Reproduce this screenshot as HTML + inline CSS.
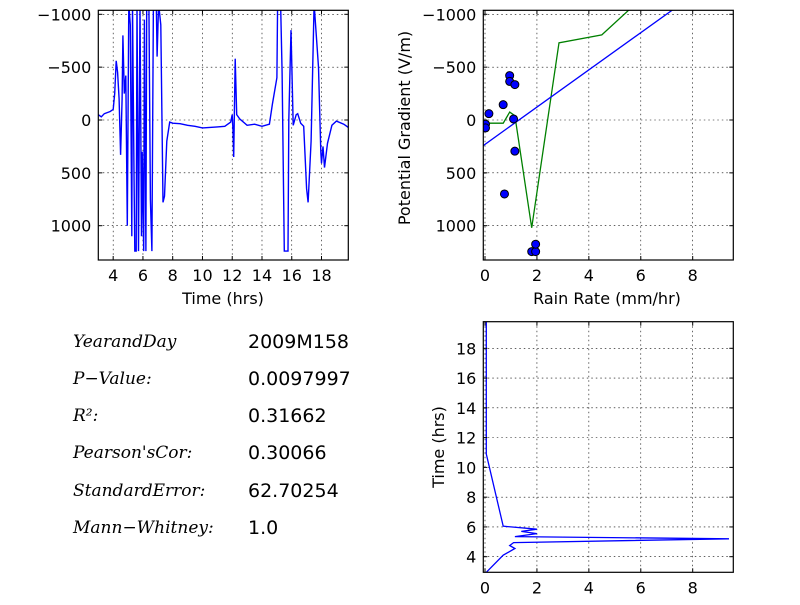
<!DOCTYPE html>
<html><head><meta charset="utf-8"><style>
body{margin:0;background:#fff;}
svg text{font-family:"DejaVu Sans","Liberation Sans",sans-serif;}
.m{font-family:"DejaVu Serif","Liberation Serif",serif;font-style:italic;font-size:17px;}
.v{font-size:19px;}
</style></head><body>
<svg id="c" width="800" height="600" xmlns="http://www.w3.org/2000/svg"></svg>
<script>
const tsTime=[3.0,3.2,3.4,3.6,3.8,4.0,4.1,4.2,4.3,4.4,4.5,4.6,4.65,4.75,4.85,4.95,5.05,5.15,5.25,5.3,5.4,5.45,5.55,5.6,5.7,5.8,5.9,5.95,6.05,6.1,6.2,6.25,6.4,6.5,6.6,6.7,6.9,6.95,7.05,7.2,7.35,7.45,7.6,7.8,8.0,8.5,9,9.5,10,10.5,11,11.5,11.9,12.0,12.05,12.1,12.2,12.3,12.5,13,13.5,14,14.5,14.7,15,15.05,15.25,15.35,15.5,15.75,15.8,15.95,16.1,16.3,16.4,16.6,16.8,17.0,17.1,17.3,17.5,17.65,17.8,17.95,18.0,18.1,18.2,18.4,18.7,19,19.5,19.8];
const tsPG=[-50,-30,-60,-70,-80,-100,-250,-560,-450,-200,330,-200,-800,-250,-420,1000,-1100,-900,1100,-1100,500,1240,1240,-1100,1240,-1100,1100,300,1240,-950,1240,-1100,-1100,750,1240,-1100,-1100,-600,-1100,-900,780,720,200,20,30,35,50,60,75,70,65,60,20,-50,100,350,-580,-50,-10,50,40,60,40,-150,-400,-1100,-1100,-450,1240,1240,0,-850,50,-50,-60,30,60,650,780,200,-1100,-800,-500,300,410,250,450,220,50,10,40,70];
const scRain=[0.02,0.02,0.15,0.7,0.95,0.95,1.15,1.1,1.15,0.75,1.8,1.95,1.95];
const scPG=[40,75,-60,-145,-420,-365,-335,-10,295,700,1245,1245,1175];
const grRain=[0,0.7,0.95,1.15,1.8,2.85,4.5,5.55,6.2];
const grPG=[30,30,-75,-40,1020,-730,-805,-1043,-1200];
const fitIntercept=230, fitSlope=-176;
const rtRain=[0.05,0.7,1.15,0.95,1.1,9.4,1.15,2,1.4,2,0.7,0.05,0.05];
const rtTime=[2.95,4.1,4.55,4.75,4.95,5.2,5.35,5.55,5.7,5.85,6.05,10.9,19.8];
const pgTicks=[-1000,-500,0,500,1000];
const hrTicks=[4,6,8,10,12,14,16,18];
const rainTicks=[0,2,4,6,8];
const timeTicks=[4,6,8,10,12,14,16,18];
const statLabels=["YearandDay","P−Value:","R²:","Pearson'sCor:","StandardError:","Mann−Whitney:"];
const statValues=["2009M158","0.0097997","0.31662","0.30066","62.70254","1.0"];

const NS="http://www.w3.org/2000/svg";
const svg=document.getElementById('c');
function el(t,a,p){const e=document.createElementNS(NS,t);for(const k in a)e.setAttribute(k,a[k]);(p||svg).appendChild(e);return e;}
function lin(d0,d1,r0,r1){return v=>r0+(v-d0)*(r1-r0)/(d1-d0);}
const xT=lin(3,19.8,98.3,348.3), yPG=lin(0,1000,120,225.7);
const yT=lin(4,18,556.7,348.3);
function frame(name,x0,y0,x1,y1,id){
  const cp=el('clipPath',{id:id});
  el('rect',{x:x0,y:y0,width:x1-x0,height:y1-y0},cp);
  const g=el('g',{'clip-path':'url(#'+id+')'});
  
  
  return g;
}
function grid(g,xs,ys,x0,y0,x1,y1){
  xs.forEach(x=>{el('line',{x1:x,x2:x,y1:y0,y2:y1,stroke:'#000','stroke-width':0.6,'stroke-dasharray':'1.5,3'},g);});
  ys.forEach(y=>{el('line',{x1:x0,x2:x1,y1:y,y2:y,stroke:'#000','stroke-width':0.6,'stroke-dasharray':'1.5,3'},g);});
}
function box(name,x0,y0,x1,y1,xs,ys,xl,yl){
  const r=el('rect',{x:x0,y:y0,width:x1-x0,height:y1-y0,fill:'none',stroke:'#000','stroke-width':1.2});
  
  
  xs.forEach((x,i)=>{el('line',{x1:x,x2:x,y1:y1,y2:y1-4,stroke:'#000'});el('line',{x1:x,x2:x,y1:y0,y2:y0+4,stroke:'#000'});
    const t=el('text',{x:x,y:y1+21,'text-anchor':'middle','font-size':16});t.textContent=xl[i];
    
    });
  ys.forEach((y,i)=>{el('line',{x1:x0,x2:x0+4,y1:y,y2:y,stroke:'#000'});el('line',{x1:x1,x2:x1-4,y1:y,y2:y,stroke:'#000'});
    const t=el('text',{x:x0-7,y:y+6,'text-anchor':'end','font-size':16});t.textContent=yl[i];
    
    });
}
function path(g,xs,ys,fx,fy,col,w){
  const d=xs.map((x,i)=>(i?'L':'M')+fx(x).toFixed(1)+','+fy(ys[i]).toFixed(1)).join('');
  return el('path',{d:d,fill:'none',stroke:col,'stroke-width':w},g);
}
const pgLab=pgTicks.map(v=>v<0?'−'+(-v):String(v));
let g=frame('time-series',98.3,10.3,348.3,260,'c1');
grid(g,hrTicks.map(xT),pgTicks.map(yPG),98.3,10.3,348.3,260);
let p=path(g,tsTime,tsPG,xT,yPG,'#0000ff',1.4);


box('time-series',98.3,10.3,348.3,260,hrTicks.map(xT),pgTicks.map(yPG),hrTicks,pgLab);
let t=el('text',{x:223,y:304,'text-anchor':'middle','font-size':16});t.textContent='Time (hrs)';


const xR2=lin(0,8,485,692.7);
g=frame('scatter',483.3,10.3,733.3,260,'c2');
grid(g,rainTicks.map(xR2),pgTicks.map(yPG),483.3,10.3,733.3,260);
p=path(g,grRain,grPG,xR2,yPG,'#008000',1.3);


p=path(g,[-0.1,9.6],[fitIntercept+fitSlope*-0.1,fitIntercept+fitSlope*9.6],xR2,yPG,'#0000ff',1.3);


scRain.forEach((r,i)=>{const c=el('circle',{cx:xR2(r),cy:yPG(scPG[i]),r:4,fill:'#0000ff',stroke:'#000','stroke-width':1},g);
  
  });
box('scatter',483.3,10.3,733.3,260,rainTicks.map(xR2),pgTicks.map(yPG),rainTicks,pgLab);
t=el('text',{x:607,y:304,'text-anchor':'middle','font-size':16});t.textContent='Rain Rate (mm/hr)';


t=el('text',{x:410,y:128,'text-anchor':'middle','font-size':16,transform:'rotate(-90 410 128)'});t.textContent='Potential Gradient (V/m)';


g=frame('rain-time',483.3,321.7,733.3,572.3,'c3');
grid(g,rainTicks.map(xR2),timeTicks.map(yT),483.3,321.7,733.3,572.3);
p=path(g,rtRain,rtTime,xR2,yT,'#0000ff',1.3);


box('rain-time',483.3,321.7,733.3,572.3,rainTicks.map(xR2),timeTicks.map(yT),rainTicks,timeTicks);
t=el('text',{x:444,y:447,'text-anchor':'middle','font-size':16,transform:'rotate(-90 444 447)'});t.textContent='Time (hrs)';


const rows=[341,378,415,452,490,527];
statLabels.forEach((s,i)=>{
  const a=el('text',{x:73,y:rows[i]+6,'class':'m'});a.textContent=s;
  
  
  const b=el('text',{x:248,y:rows[i]+7,'class':'v'});b.textContent=statValues[i];
  
  
});
</script>
</body></html>
